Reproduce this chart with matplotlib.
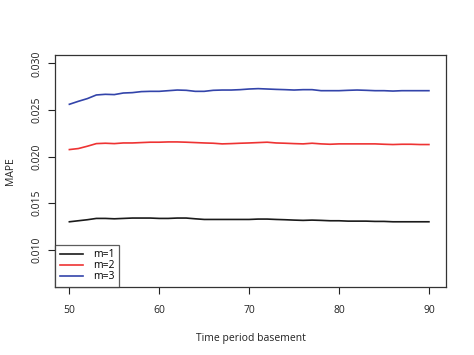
import matplotlib
matplotlib.use("Agg")
import matplotlib.pyplot as plt

# time period basement 50..90
periods = list(range(50, 91))

mape_m1 = [0.01300, 0.01311, 0.01322, 0.01336, 0.01336, 0.01332, 0.01336, 0.01340, 0.01340, 0.01340,
           0.01336, 0.01336, 0.01340, 0.01340, 0.01332, 0.01325, 0.01325, 0.01325, 0.01325, 0.01325,
           0.01325, 0.01329, 0.01329, 0.01325, 0.01322, 0.01318, 0.01315, 0.01318, 0.01315, 0.01311,
           0.01311, 0.01307, 0.01307, 0.01307, 0.01304, 0.01304, 0.01300, 0.01300, 0.01300, 0.01300,
           0.01300]
mape_m2 = [0.02075, 0.02086, 0.02111, 0.02139, 0.02143, 0.02139, 0.02146, 0.02146, 0.02150, 0.02154,
           0.02154, 0.02157, 0.02157, 0.02154, 0.02150, 0.02146, 0.02143, 0.02136, 0.02139, 0.02143,
           0.02146, 0.02150, 0.02154, 0.02146, 0.02143, 0.02139, 0.02136, 0.02143, 0.02136, 0.02132,
           0.02136, 0.02136, 0.02136, 0.02136, 0.02136, 0.02132, 0.02129, 0.02132, 0.02132, 0.02129,
           0.02129]
mape_m3 = [0.02561, 0.02593, 0.02622, 0.02661, 0.02668, 0.02665, 0.02682, 0.02686, 0.02697, 0.02700,
           0.02700, 0.02707, 0.02714, 0.02711, 0.02700, 0.02700, 0.02711, 0.02714, 0.02714, 0.02718,
           0.02725, 0.02729, 0.02725, 0.02721, 0.02718, 0.02714, 0.02718, 0.02718, 0.02707, 0.02707,
           0.02707, 0.02711, 0.02714, 0.02711, 0.02707, 0.02707, 0.02703, 0.02707, 0.02707, 0.02707,
           0.02707]

series = [("m=1", mape_m1, "#1a1a1a"),
          ("m=2", mape_m2, "#ee3333"),
          ("m=3", mape_m3, "#3344aa")]

plt.rcParams["font.family"] = ["Open Sans", "DejaVu Sans"]

fig = plt.figure(figsize=(4.74, 3.55), dpi=100)
ax = fig.add_axes([55 / 474, 1 - 287 / 355, 391 / 474, 232 / 355])

for name, vals, col in series:
    ax.plot(periods, vals, color=col, lw=1.2, label=name)

ax.set_xlim(48.4, 91.9)
ax.set_ylim(0.0060, 0.0309)
ax.set_xticks([50, 60, 70, 80, 90])
ax.set_yticks([0.010, 0.015, 0.020, 0.025, 0.030])
ax.set_yticklabels(["0.010", "0.015", "0.020", "0.025", "0.030"], rotation=90, va="center")
ax.tick_params(direction="out", length=5, width=0.8, labelsize=7.5, colors="#222222", pad=4)
ax.tick_params(axis="x", pad=8)
for s in ax.spines.values():
    s.set_linewidth(0.9)
    s.set_color("#333333")

ax.set_xlabel("Time period basement", fontsize=7.5, labelpad=12, color="#222222")
ax.set_ylabel("MAPE", fontsize=7.5, labelpad=11, color="#222222")

leg = ax.legend(loc="lower left", bbox_to_anchor=(0, 0), borderaxespad=0,
                fontsize=7.5, fancybox=False, handlelength=2.2, handletextpad=1.0,
                labelspacing=0.0, borderpad=0.45)
leg.get_frame().set_edgecolor("#333333")
leg.get_frame().set_linewidth(0.9)

fig.savefig("out.png", dpi=100)
